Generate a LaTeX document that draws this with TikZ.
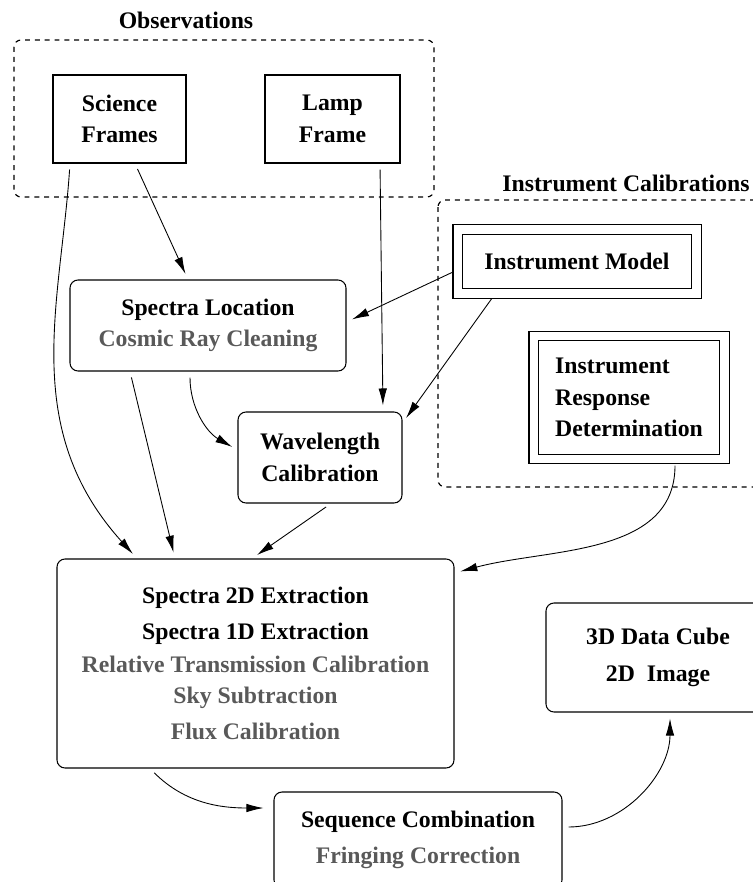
\documentclass[tikz,border=0pt]{standalone}
\usepackage{fontspec}
\setmainfont{Liberation Serif}
\usetikzlibrary{arrows.meta}
\definecolor{subgray}{gray}{0.35}
\newcommand{\minor}[1]{\textcolor{subgray}{#1}}

\begin{document}
\begin{tikzpicture}[
    font=\fontsize{13.5}{18}\selectfont\bfseries,
    source/.style={draw,align=center,line width=0.6pt},
    calib/.style={draw,double,double distance=0.17cm,line width=0.6pt},
    task/.style={draw,rounded corners=0.16cm,align=center,line width=0.6pt},
    group/.style={draw,line width=0.65pt,dash pattern=on 2.8pt off 2.8pt,rounded corners=0.14cm},
    flow/.style={-{Latex[length=3.4mm,width=1.7mm]},line width=0.5pt,
                 shorten <=0.12cm,shorten >=0.12cm}
  ]
    \useasboundingbox (0,0) rectangle (15.04,-17.64);

    % groups
    \draw[group] (0.28,-0.80) rectangle (8.68,-3.94);
    \node (obslabel) at (3.72,-0.40) {Observations};
    \draw[group] (8.76,-4.00) rectangle (15.8,-9.74);
    \node (callabel) at (12.52,-3.66) {Instrument Calibrations};

    % inputs
    \node[source,minimum width=2.66cm,minimum height=1.76cm] (sci) at (2.39,-2.38) {Science\\Frames};
    \node[source,minimum width=2.70cm,minimum height=1.76cm] (lamp) at (6.65,-2.38) {Lamp\\Frame};
    \node[calib,minimum width=4.77cm,minimum height=1.28cm] (model) at (11.54,-5.23) {Instrument Model};
    \node[calib,align=left,minimum width=3.81cm,minimum height=2.46cm] (resp) at (12.58,-7.95)
      {Instrument\\Response\\Determination};

    % processing steps
    \node[task,minimum width=5.52cm,minimum height=1.82cm] (loc) at (4.16,-6.51)
      {Spectra Location\\\minor{Cosmic Ray Cleaning}};
    \node[task,minimum width=3.28cm,minimum height=1.82cm] (wave) at (6.40,-9.15)
      {Wavelength\\Calibration};
    \node[task,minimum width=7.94cm,minimum height=4.18cm] (ext) at (5.11,-13.27)
      {Spectra 2D Extraction\\[2.4pt]Spectra 1D Extraction\\[0.7pt]
       \minor{Relative Transmission Calibration}\\\minor{Sky Subtraction}\\[2.4pt]
       \minor{Flux Calibration}};
    \node[task,minimum width=4.48cm,minimum height=2.18cm] (cube) at (13.16,-13.15)
      {3D Data Cube\\[3pt]2D~ Image};
    \node[task,minimum width=5.76cm,minimum height=1.92cm] (seq) at (8.36,-16.80)
      {Sequence Combination\\[2.4pt]\minor{Fringing Correction}};

    % data flow
    \draw[flow] ([xshift=-0.99cm]sci.south) .. controls +(-0.19,-2.80) and +(-2.35,2.60) .. ([xshift=-2.37cm]ext.north);
    \draw[flow] ([xshift=0.31cm]sci.south) -- ([xshift=-0.40cm]loc.north);
    \draw[flow] ([xshift=0.95cm]lamp.south) -- ([xshift=1.26cm]wave.north);
    \draw[flow] ([yshift=-0.17cm]model.west) -- ([yshift=0.07cm]loc.east);
    \draw[flow] ([xshift=-1.64cm]model.south) -- ([yshift=0.69cm]wave.east);
    \draw[flow] ([xshift=-1.56cm]loc.south) -- ([xshift=-1.61cm]ext.north);
    \draw[flow] ([xshift=-0.36cm]loc.south) to[out=-90,in=150] ([yshift=0.15cm]wave.west);
    \draw[flow] ([xshift=0.22cm]wave.south) -- ([xshift=-0.07cm]ext.north);
    \draw[flow] ([xshift=0.92cm]resp.south) to[out=-90,in=15] ([yshift=1.81cm]ext.east);
    \draw[flow,shorten >=0.2cm] ([xshift=-2.11cm]ext.south) to[out=-45,in=180] ([yshift=0.64cm]seq.west);
    \draw[flow] ([yshift=0.26cm]seq.east) to[out=0,in=-90] ([xshift=0.24cm]cube.south);
\end{tikzpicture}
\end{document}
